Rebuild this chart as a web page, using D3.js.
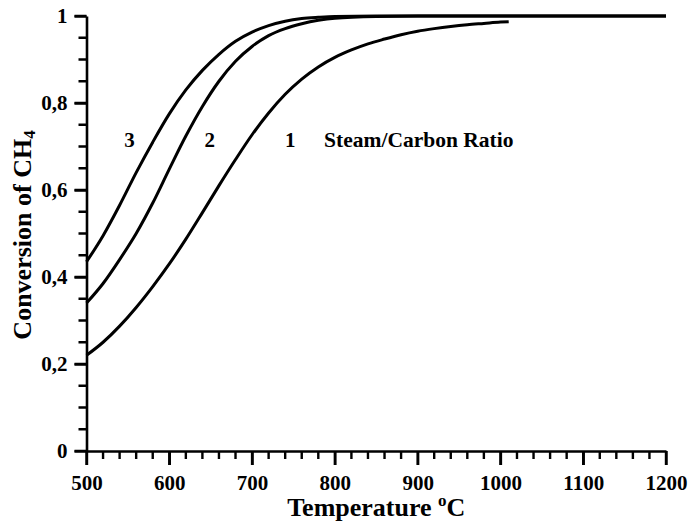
<!DOCTYPE html>
<html>
<head>
<meta charset="utf-8">
<script src="https://cdn.jsdelivr.net/npm/d3@7"></script>
<style>
	body{margin:0;background:#fff}
	svg{display:block}
	text{font-family:'Liberation Serif','Times New Roman',serif;font-weight:bold;fill:#000}
</style>
</head>
<body>
<div id="chart"></div>
<script>
// 温度 °C / 甲烷转化率, 三条曲线 = 水碳比 1, 2, 3
var temp1=[500,520,540,560,580,600,620,640,660,680,700,720,740,760,780,800,820,840,860,880,900,920,940,960,980,1000,1010];
var conv1=[0.22,0.25,0.287,0.33,0.378,0.43,0.487,0.548,0.61,0.67,0.727,0.777,0.82,0.855,0.883,0.905,0.922,0.936,0.947,0.957,0.965,0.971,0.976,0.98,0.983,0.986,0.987];
var temp2=[500,520,540,560,580,600,620,640,660,680,700,720,740,760,780,800,850,900,1200];
var conv2=[0.34,0.385,0.44,0.50,0.57,0.648,0.724,0.792,0.85,0.896,0.93,0.955,0.971,0.982,0.99,0.995,0.999,1,1];
var temp3=[500,520,540,560,580,600,620,640,660,680,700,720,740,760,780,800,850,1200];
var conv3=[0.435,0.495,0.565,0.64,0.71,0.775,0.83,0.875,0.912,0.942,0.963,0.978,0.988,0.994,0.997,0.999,1,1];
var curveNames=['1','2','3'];
var xMajor=[500,600,700,800,900,1000,1100,1200];
var yMajor=[0,0.2,0.4,0.6,0.8,1];
var yLabels=['0','0,2','0,4','0,6','0,8','1'];

var svg=d3.select('#chart').append('svg').attr('width',690).attr('height',524);

var xScale=d3.scaleLinear().domain([500,1200]).range([86.5,666]);
var yScale=d3.scaleLinear().domain([0,1]).range([451,16]);

var xMinor=d3.range(500,1201,20).filter(function(d){return d%100!=0});
var yMinor=d3.range(0,21).filter(function(i){return i%4!=0}).map(function(i){return i*0.05});

// 曲线
var lineGen=d3.line().x(function(d){return xScale(d[0])}).y(function(d){return yScale(d[1])}).curve(d3.curveMonotoneX);
var series=[d3.zip(temp1,conv1),d3.zip(temp2,conv2),d3.zip(temp3,conv3)];
svg.append('g').attr('class','curves').selectAll('path').data(series).enter().append('path')
	.attr('d',lineGen).attr('fill','none').attr('stroke','#000').attr('stroke-width',3).attr('stroke-linejoin','round');

// 坐标轴 (轴线和刻度文字)
var gx=svg.append('g').attr('transform','translate(0,'+yScale(0)+')')
	.call(d3.axisBottom(xScale).tickValues(xMajor).tickSize(14).tickSizeOuter(0).tickFormat(d3.format('d')).tickPadding(5));
var gy=svg.append('g').attr('transform','translate('+xScale(500)+',0)')
	.call(d3.axisLeft(yScale).tickValues(yMajor).tickSize(12).tickSizeOuter(0).tickFormat(function(d,i){return yLabels[i]}).tickPadding(7));

svg.selectAll('.domain').attr('stroke','#000').attr('stroke-width',2.6);
svg.selectAll('.tick line').attr('stroke','#000').attr('stroke-width',2.4);
gx.selectAll('.tick text').attr('font-size',21).attr('dy','0.95em');
gy.selectAll('.tick text').attr('font-size',21);

// 刻度线: 每根轴一条 path, 位置取自比例尺
var x0=xScale(500),y0=yScale(0);
var xTickPath=xMajor.map(function(d){return 'M'+xScale(d)+','+y0+'v14'}).join('')+
	xMinor.map(function(d){return 'M'+xScale(d)+','+y0+'v8'}).join('');
var yTickPath=yMajor.map(function(d){return 'M'+x0+','+yScale(d)+'h-12'}).join('')+
	yMinor.map(function(d){return 'M'+x0+','+yScale(d)+'h-8'}).join('');
var gTicks=svg.append('g').attr('class','tickmarks');
gTicks.append('path').attr('d',xTickPath).attr('fill','none').attr('stroke','#000').attr('stroke-width',2.4);
gTicks.append('path').attr('d',yTickPath).attr('fill','none').attr('stroke','#000').attr('stroke-width',2.4);

// 曲线标注
var labelT=[746,649,552];
svg.append('g').attr('class','labels').selectAll('text').data(curveNames).enter().append('text')
	.attr('x',function(d,i){return xScale(labelT[i])}).attr('y',yScale(0.7)).attr('text-anchor','middle')
	.attr('font-size',21).text(function(d){return d});
svg.append('text').attr('x',xScale(787)).attr('y',yScale(0.7)).attr('font-size',21.5).text('Steam/Carbon Ratio');

// 轴标题
var xt=svg.append('text').attr('x',(xScale(500)+xScale(1200))/2).attr('y',516).attr('text-anchor','middle').attr('font-size',26);
xt.append('tspan').text('Temperature ');
xt.append('tspan').attr('font-size',17).attr('dy',-10).text('o');
xt.append('tspan').attr('dy',10).text('C');

var yt=svg.append('text').attr('transform','translate(31,235) rotate(-90)').attr('text-anchor','middle').attr('font-size',26);
yt.append('tspan').text('Conversion of CH');
yt.append('tspan').attr('font-size',17).attr('dy',4).text('4');
</script>
</body>
</html>
